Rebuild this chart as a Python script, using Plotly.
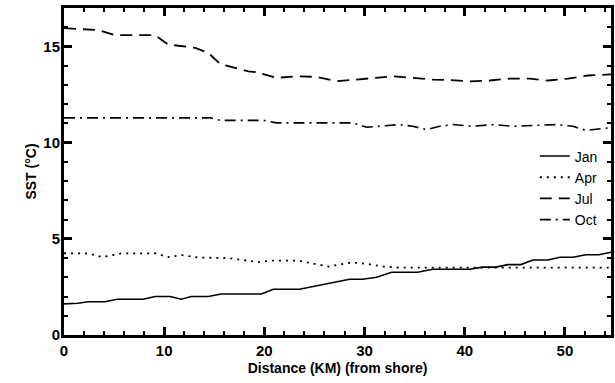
import plotly.graph_objects as go

jan_km = [0, 1.4, 2.4, 4.1, 5.3, 7.9, 9.1, 10.6, 11.7, 12.7, 14.4, 15.7, 19.7, 20.9, 23.5, 27.0,
          28.5, 29.8, 31.2, 32.7, 35.3, 36.8, 40.5, 41.8, 43.1, 44.3, 45.6, 46.8, 48.3, 49.5, 50.8,
          52.1, 53.4, 54.6]
jan_sst = [1.62, 1.65, 1.73, 1.73, 1.86, 1.86, 2.0, 2.0, 1.86, 2.0, 2.0, 2.13, 2.13, 2.38, 2.38, 2.74,
           2.9, 2.9, 3.0, 3.26, 3.26, 3.42, 3.42, 3.53, 3.53, 3.66, 3.66, 3.9, 3.9, 4.04, 4.04,
           4.17, 4.17, 4.3]

apr_km = [0, 2.4, 3.8, 5.7, 9.1, 10.4, 11.7, 13.4, 16.3, 19.4, 20.7, 23.4, 25.0, 26.4,
          28.7, 30.2, 31.8, 33.5, 40.0, 45.0, 50.0, 54.6]
apr_sst = [4.25, 4.24, 4.05, 4.24, 4.25, 4.05, 4.15, 4.03, 4.0, 3.79, 3.87, 3.87, 3.7, 3.56,
           3.77, 3.7, 3.56, 3.5, 3.5, 3.5, 3.5, 3.5]

jul_km = [0, 3.4, 5.1, 9.1, 10.4, 13.1, 14.4, 15.6, 18.4, 19.2, 21.2, 23.2, 25.2, 27.2, 29.2,
          31.2, 32.8, 34.8, 36.8, 38.5, 40.6, 42.5, 44.5, 46.5, 48.3, 50.3, 52.3, 54.6]
jul_sst = [15.95, 15.85, 15.59, 15.59, 15.1, 14.93, 14.67, 14.08, 13.71, 13.66, 13.37, 13.45, 13.42,
           13.19, 13.28, 13.37, 13.45, 13.37, 13.28, 13.25, 13.19, 13.23, 13.33, 13.33, 13.23,
           13.33, 13.49, 13.55]

oct_km = [0, 14.6, 15.6, 19.9, 21.2, 28.8, 30.2, 31.5, 33.5, 34.8, 36.2, 37.5, 38.8, 40.8,
          42.8, 44.8, 46.8, 49.1, 50.8, 52.1, 54.6]
oct_sst = [11.29, 11.29, 11.16, 11.16, 11.03, 11.03, 10.8, 10.85, 10.94, 10.85, 10.68, 10.85,
           10.94, 10.85, 10.94, 10.85, 10.9, 10.94, 10.85, 10.64, 10.78]

x_range = [0, 54.6]
y_range = [0, 17]

series = [
    ("Jan", jan_km, jan_sst, "solid", 1.6),
    ("Apr", apr_km, apr_sst, "2px,5px", 1.8),
    ("Jul", jul_km, jul_sst, "12px,7px", 1.8),
    ("Oct", oct_km, oct_sst, "11px,5px,2px,5px", 1.6),
]

fig = go.Figure()
for name, xs, ys, dash, w in series:
    fig.add_trace(go.Scatter(x=xs, y=ys, name=name, mode="lines",
                             line=dict(color="black", width=w, dash=dash, shape="linear")))
# empty trace that anchors the minor-tick companion axes
fig.add_trace(go.Scatter(x=[None], y=[None], xaxis="x2", yaxis="y2", mode="lines",
                         showlegend=False, hoverinfo="skip"))

axis_common = dict(
    showgrid=False, zeroline=False, showline=True, linecolor="black", linewidth=3,
    mirror="allticks", ticks="inside", tickcolor="black",
    automargin=False, tickmode="linear", tick0=0,
    tickfont=dict(family="Liberation Sans", size=15, color="black", weight="bold"),
)

layout_axes = dict(
    xaxis2=dict(range=x_range, dtick=2, ticklen=4, tickwidth=2, anchor="y2",
                side="bottom", showticklabels=False, **axis_common),
    yaxis2=dict(range=y_range, dtick=1, ticklen=4, tickwidth=2, anchor="x2",
                side="left", showticklabels=False, **axis_common),
    xaxis=dict(range=x_range, dtick=10, ticklen=8, tickwidth=3, overlaying="x2", anchor="y",
               title=dict(text="Distance (KM) (from shore)", standoff=6,
                          font=dict(family="Liberation Sans", size=14, color="black", weight="bold")),
               **axis_common),
    yaxis=dict(range=y_range, dtick=5, ticklen=8, tickwidth=3, ticklabelstandoff=-2,
               overlaying="y2", anchor="x",
               title=dict(text="SST (°C)", standoff=4,
                          font=dict(family="Liberation Sans", size=14, color="black", weight="bold")),
               **axis_common),
)

fig.update_layout(
    width=615, height=383,
    margin=dict(l=64, r=4, t=8, b=48),
    plot_bgcolor="white", paper_bgcolor="white",
    legend=dict(x=0.985, y=0.595, xanchor="right", yanchor="top",
                bgcolor="rgba(0,0,0,0)", borderwidth=0,
                font=dict(family="Liberation Sans", size=14, color="black"),
                tracegroupgap=0),
    showlegend=True,
    **layout_axes,
)

fig.write_html("out.html", config={"displayModeBar": False},
               post_script="document.body.style.margin='0';")
